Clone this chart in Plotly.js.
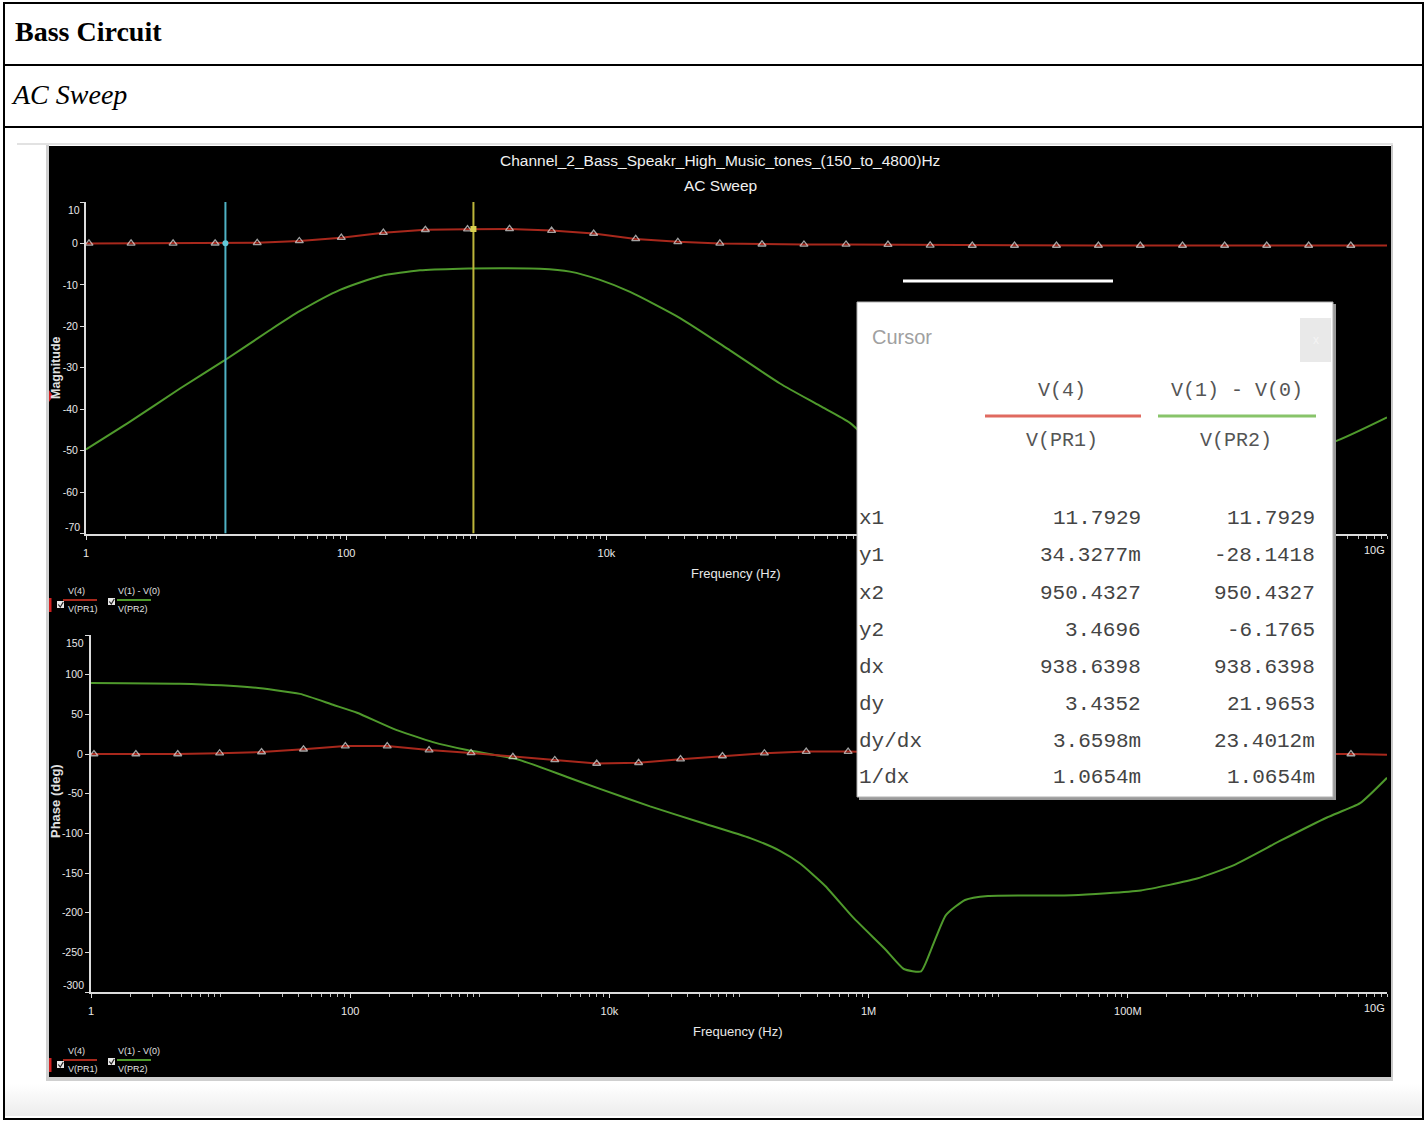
<!DOCTYPE html>
<html>
<head>
<meta charset="utf-8">
<script src="https://cdn.plot.ly/plotly-3.0.1.min.js"></script>
<style>
  html, body { margin:0; padding:0; background:#fff; }
  body { width:1426px; height:1122px; position:relative; overflow:hidden; }
  .abs { position:absolute; }
  .cell { position:absolute; left:15px; font-family:"Liberation Serif","Times New Roman",serif; font-size:28px; color:#000; }
</style>
</head>
<body>
<!-- table frame -->
<div class="abs" style="left:3px;top:2px;width:1417px;height:1114px;border:2px solid #000;"></div>
<div class="abs" style="left:3px;top:64px;width:1421px;height:2px;background:#000;"></div>
<div class="abs" style="left:3px;top:126px;width:1421px;height:2px;background:#000;"></div>
<div class="cell" style="top:16px;font-weight:bold;">Bass Circuit</div>
<div class="cell" style="top:79px;left:13px;font-style:italic;">AC Sweep</div>
<!-- screenshot frame -->
<div class="abs" style="left:17px;top:143px;width:1376px;height:2px;background:#e2e2e2;"></div>
<div class="abs" style="left:46px;top:145px;width:3px;height:934px;background:#d0d0d0;"></div>
<div class="abs" style="left:1391px;top:145px;width:2px;height:934px;background:#c8c8c8;"></div>
<div class="abs" style="left:46px;top:1077px;width:1347px;height:4px;background:#cfcfcf;"></div>
<div class="abs" style="left:5px;top:1084px;width:1417px;height:32px;background:linear-gradient(#ffffff,#ececec);"></div>
<div id="chart" class="abs" style="left:49px;top:146px;width:1342px;height:931px;"></div>
<script>
// ---------------- data ----------------
// frequencies (Hz) of the V(4) sample points (markers); first and last are the sweep ends
const v4Freq = [1, 1.054, 2.22, 4.67, 9.83, 20.7, 43.6, 91.7, 193, 406, 856, 1800, 3790, 7980, 16800, 35400, 74500,
  157000, 330000, 695000, 1.46e6, 3.08e6, 6.49e6, 1.37e7, 2.88e7, 6.05e7, 1.27e8, 2.68e8, 5.65e8, 1.19e9, 2.5e9, 5.27e9, 1e10];
const v4Mag = [0, 0, 0, 0, 0.05, 0.15, 0.6, 1.4, 2.6, 3.3, 3.45, 3.5, 3.1, 2.4, 1.1, 0.4, 0,
  -0.2, -0.25, -0.25, -0.3, -0.45, -0.5, -0.5, -0.5, -0.5, -0.5, -0.5, -0.5, -0.5, -0.5, -0.5, -0.5];
const v4Phase = [0, 0, 0, 0, 1, 2.5, 6, 10, 10, 5, 1.3, -3.5, -7.5, -12, -11, -6.5, -2.5,
  1, 3, 3, 2, 1, 0.5, 0, 0, 0, 0, 0, 0, 0, 0, 0, -1];

const v10MagFreq = [1, 2.18, 5.28, 11.5, 26, 44.2, 89.6, 182, 369, 750, 1520, 3090, 5250, 8930, 15200,
  36800, 89100, 216000, 438000, 745000, 1.5e6, 5e6, 3e7, 2e8, 1e9, 3.85e9, 1e10];
const v10Mag = [-49.7, -43, -35, -28.3, -20.9, -16.3, -11.2, -7.9, -6.5, -6.1, -6.0, -6.1, -6.8, -8.8, -11.7,
  -18.0, -25.8, -33.8, -39.2, -43.3, -52, -58, -60, -57, -53, -48, -42];

const v10PhaseFreq = [1, 4.86, 16.9, 41, 73.7, 113, 214, 435, 797, 1940, 4710, 8460, 20600, 50000,
  122000, 207000, 296000, 461000, 759000, 1.36e6, 1.87e6, 2.54e6, 3.08e6, 3.95e6,
  5.55e6, 8.34e6, 3.71e7, 1.26e8, 3.42e8, 6.6e8, 1.52e9, 3.44e9, 6.2e9, 1e10];
const v10Phase = [89.5, 88.5, 84.2, 75.8, 62, 52, 32, 15, 5, -6.5, -29, -44, -66, -86,
  -106, -122, -138, -166, -206, -247, -271, -274, -244, -203,
  -184, -179, -178, -172, -157, -140, -109, -80, -62, -30];

const cursorX = [11.7929, 950.4327];
const cursorYv4 = [0.0343277, 3.4696];

const freqTickVals = [1, 100, 1e4, 1e6, 1e8, 1e10];
const freqTickTextTop = ['1', '100', '10k', '', '', ''];
const freqTickTextBottom = ['1', '100', '10k', '1M', '100M', ''];
const magTickVals = [-70, -60, -50, -40, -30, -20, -10, 0, 10];
const magTickText = ['', '-60', '-50', '-40', '-30', '-20', '-10', '0', ''];
const phTickVals = [-300, -250, -200, -150, -100, -50, 0, 50, 100, 150];
const phTickText = ['', '-250', '-200', '-150', '-100', '-50', '0', '50', '100', ''];

const cursorRows = ['x1', 'y1', 'x2', 'y2', 'dx', 'dy', 'dy/dx', '1/dx'];
const cursorColV4 = ['11.7929', '34.3277m', '950.4327', '3.4696', '938.6398', '3.4352', '3.6598m', '1.0654m'];
const cursorColV10 = ['11.7929', '-28.1418', '950.4327', '-6.1765', '938.6398', '21.9653', '23.4012m', '1.0654m'];

// ---------------- helpers ----------------
const W = 1342, H = 931, OX = 49, OY = 146;
const px = x => (x - OX) / W;
const py = y => 1 - (y - OY) / H;
const SANS = '"Liberation Sans", Arial, sans-serif';
const MONO = '"Liberation Mono", "Courier New", monospace';
const RED = '#a8281c', GREEN = '#4f9a2c', TICK = '#dcdcdc';

const minorTicks = [];
for (let d = 0; d < 10; d++) for (let k = 2; k <= 10; k++) minorTicks.push(k * Math.pow(10, d));

const markerSizes = v4Freq.map((f, i) => (i === 0 || i === v4Freq.length - 1) ? 0 : 7);

const traces = [
  { x: v10MagFreq, y: v10Mag, xaxis: 'x', yaxis: 'y', mode: 'lines', line: { color: GREEN, width: 2, shape: 'spline', smoothing: 0.6 }, hoverinfo: 'skip' },
  { x: v4Freq, y: v4Mag, xaxis: 'x', yaxis: 'y', mode: 'lines+markers', line: { color: RED, width: 2 },
    marker: { symbol: 'triangle-up-open', size: markerSizes, color: '#e6e6e6', line: { width: 1.3, color: '#e6e6e6' } }, hoverinfo: 'skip' },
  { x: [cursorX[0], cursorX[0]], y: [-70, 10], xaxis: 'x', yaxis: 'y', mode: 'lines', line: { color: '#4fb2c4', width: 2 }, hoverinfo: 'skip' },
  { x: [cursorX[1], cursorX[1]], y: [-70, 10], xaxis: 'x', yaxis: 'y', mode: 'lines', line: { color: '#bdb53a', width: 2 }, hoverinfo: 'skip' },
  { x: cursorX, y: [10.6, 10.9], xaxis: 'x', yaxis: 'y', mode: 'markers', cliponaxis: false,
    marker: { symbol: 'triangle-down', size: 11, color: ['#62c8d8', '#e4dc50'] }, hoverinfo: 'skip' },
  { x: cursorX, y: cursorYv4, xaxis: 'x', yaxis: 'y', mode: 'markers',
    marker: { symbol: ['circle', 'square'], size: 6, color: ['#62c8d8', '#d8d050'] }, hoverinfo: 'skip' },
  { x: v10PhaseFreq, y: v10Phase, xaxis: 'x2', yaxis: 'y2', mode: 'lines', line: { color: GREEN, width: 2, shape: 'spline', smoothing: 0.5 }, hoverinfo: 'skip' },
  { x: v4Freq, y: v4Phase, xaxis: 'x2', yaxis: 'y2', mode: 'lines+markers', line: { color: RED, width: 2 },
    marker: { symbol: 'triangle-up-open', size: markerSizes, color: '#e6e6e6', line: { width: 1.3, color: '#e6e6e6' } }, hoverinfo: 'skip' }
];

const xCommon = {
  type: 'log', range: [0, 10], showgrid: false, zeroline: false, showline: true, linecolor: TICK, linewidth: 2,
  ticks: 'outside', ticklen: 4, tickwidth: 1, tickcolor: TICK, tickvals: freqTickVals,
  tickfont: { family: SANS, size: 11, color: '#e8e8e8' }, ticklabelstandoff: 4,
  minor: { tickmode: 'array', tickvals: minorTicks, ticks: 'outside', ticklen: 3, tickcolor: '#bbbbbb', showgrid: false }
};
const yCommon = {
  showgrid: false, zeroline: false, showline: true, linecolor: TICK, linewidth: 2,
  ticks: 'outside', ticklen: 4, tickwidth: 1, tickcolor: TICK,
  tickfont: { family: SANS, size: 10.5, color: '#e8e8e8' }
};

const ann = [];
const shapes = [];
function txt(x, y, text, o) {
  ann.push(Object.assign({ xref: 'paper', yref: 'paper', x: px(x), y: py(y), text: text, showarrow: false,
    xanchor: 'center', yanchor: 'middle', font: { family: SANS, size: 10.5, color: '#e8e8e8' } }, o || {}));
}
function line(x0, y0, x1, y1, color, width) {
  shapes.push({ type: 'line', xref: 'paper', yref: 'paper', x0: px(x0), y0: py(y0), x1: px(x1), y1: py(y1),
    line: { color: color, width: width }, layer: 'above' });
}
function rect(x0, y0, x1, y1, fill, lc, lw) {
  shapes.push({ type: 'rect', xref: 'paper', yref: 'paper', x0: px(x0), y0: py(y0), x1: px(x1), y1: py(y1),
    fillcolor: fill, line: { color: lc || fill, width: lw || 0 }, layer: 'above' });
}

// titles
txt(720, 160, 'Channel_2_Bass_Speakr_High_Music_tones_(150_to_4800)Hz', { font: { family: SANS, size: 15.5, color: '#f0f0f0' } });
txt(720, 185, 'AC Sweep', { font: { family: SANS, size: 15.5, color: '#f0f0f0' } });
txt(56, 368, '<b>Magnitude</b>', { textangle: -90, font: { family: SANS, size: 12.5, color: '#e0e0e0' } });
txt(55, 801, '<b>Phase (deg)</b>', { textangle: -90, font: { family: SANS, size: 13, color: '#e0e0e0' } });
txt(736, 573, 'Frequency (Hz)', { font: { family: SANS, size: 13, color: '#e8e8e8' } });
txt(738, 1031, 'Frequency (Hz)', { font: { family: SANS, size: 13, color: '#e8e8e8' } });
// edge tick labels (clamped inside the frame in the original)
txt(82, 210, '10', { xanchor: 'right' });
txt(82, 527, '-70', { xanchor: 'right' });
txt(86, 643, '150', { xanchor: 'right' });
txt(86, 985, '-300', { xanchor: 'right' });
txt(1387, 550, '10G', { xanchor: 'right', font: { family: SANS, size: 11, color: '#e8e8e8' } });
txt(1387, 1008, '10G', { xanchor: 'right', font: { family: SANS, size: 11, color: '#e8e8e8' } });

// legends
function legend(dy) {
  const f = { family: SANS, size: 9, color: '#e0e0e0' };
  txt(66, 591 + dy, 'V(4)', { font: f, xanchor: 'left' });
  line(63, 600 + dy, 97, 600 + dy, RED, 2);
  txt(66, 609 + dy, 'V(PR1)', { font: f, xanchor: 'left' });
  rect(57, 601 + dy, 64, 608 + dy, '#e8e8e8');
  shapes.push({ type: 'path', xref: 'paper', yref: 'paper', layer: 'above',
    path: `M ${px(58.3)} ${py(604.5 + dy)} L ${px(60.3)} ${py(607 + dy)} L ${px(63.3)} ${py(602 + dy)}`, line: { color: '#222', width: 1.2 } });
  rect(49, 598 + dy, 51.5, 612 + dy, '#d02020');
  txt(116, 591 + dy, 'V(1) - V(0)', { font: f, xanchor: 'left' });
  line(117, 600 + dy, 151, 600 + dy, GREEN, 2);
  txt(116, 609 + dy, 'V(PR2)', { font: f, xanchor: 'left' });
  rect(108, 598 + dy, 115, 605 + dy, '#e8e8e8');
  shapes.push({ type: 'path', xref: 'paper', yref: 'paper', layer: 'above',
    path: `M ${px(109.3)} ${py(601.5 + dy)} L ${px(111.3)} ${py(604 + dy)} L ${px(114.3)} ${py(599 + dy)}`, line: { color: '#222', width: 1.2 } });
}
legend(0);
legend(460);
// red pointer on left edge of magnitude plot
shapes.push({ type: 'path', xref: 'paper', yref: 'paper', layer: 'above', fillcolor: '#d02020', line: { width: 0 },
  path: `M ${px(49)} ${py(390)} L ${px(53)} ${py(396)} L ${px(49)} ${py(402)} Z` });

// white bar above cursor window
line(903, 281, 1113, 281, '#ffffff', 3);

// cursor window
rect(859, 304, 1336, 800, '#9a9a9a');
rect(857, 302, 1333, 797, '#ffffff', '#b0b0b0', 1);
rect(1300, 318, 1331, 362, '#e9e9e9');
txt(1316, 340, 'x', { font: { family: SANS, size: 12, color: '#f4f4f4' } });
txt(870, 337, 'Cursor', { xanchor: 'left', font: { family: SANS, size: 20, color: '#a0a0a0' } });
txt(1062, 390, 'V(4)', { font: { family: MONO, size: 20, color: '#555' } });
txt(1062, 441, 'V(PR1)', { font: { family: MONO, size: 20, color: '#555' } });
txt(1237, 390, 'V(1) - V(0)', { font: { family: MONO, size: 20, color: '#555' } });
txt(1236, 441, 'V(PR2)', { font: { family: MONO, size: 20, color: '#555' } });
line(985, 416, 1141, 416, '#e06a60', 3);
line(1158, 416, 1316, 416, '#88c46a', 3);
const rowY = [519, 556, 593, 630, 667, 704, 741, 777];
cursorRows.forEach((r, i) => {
  const f = { family: MONO, size: 21, color: '#444' };
  txt(857, rowY[i], r, { xanchor: 'left', font: f });
  txt(1143, rowY[i], cursorColV4[i], { xanchor: 'right', font: f });
  txt(1317, rowY[i], cursorColV10[i], { xanchor: 'right', font: f });
});

const layout = {
  width: W, height: H,
  margin: { l: 0, r: 0, t: 0, b: 0 },
  paper_bgcolor: '#000', plot_bgcolor: '#000',
  showlegend: false,
  xaxis: Object.assign({}, xCommon, { domain: [px(86), px(1387)], anchor: 'y', ticktext: freqTickTextTop }),
  yaxis: Object.assign({}, yCommon, { domain: [py(533.5), py(202)], anchor: 'x', range: [-70, 10],
    tickvals: magTickVals, ticktext: magTickText }),
  xaxis2: Object.assign({}, xCommon, { domain: [px(91), px(1387)], anchor: 'y2', ticktext: freqTickTextBottom }),
  yaxis2: Object.assign({}, yCommon, { domain: [py(992), py(635)], anchor: 'x2', range: [-300, 150],
    tickvals: phTickVals, ticktext: phTickText }),
  annotations: ann,
  shapes: shapes
};

Plotly.newPlot('chart', traces, layout, { staticPlot: true, displayModeBar: false });
</script>
</body>
</html>
